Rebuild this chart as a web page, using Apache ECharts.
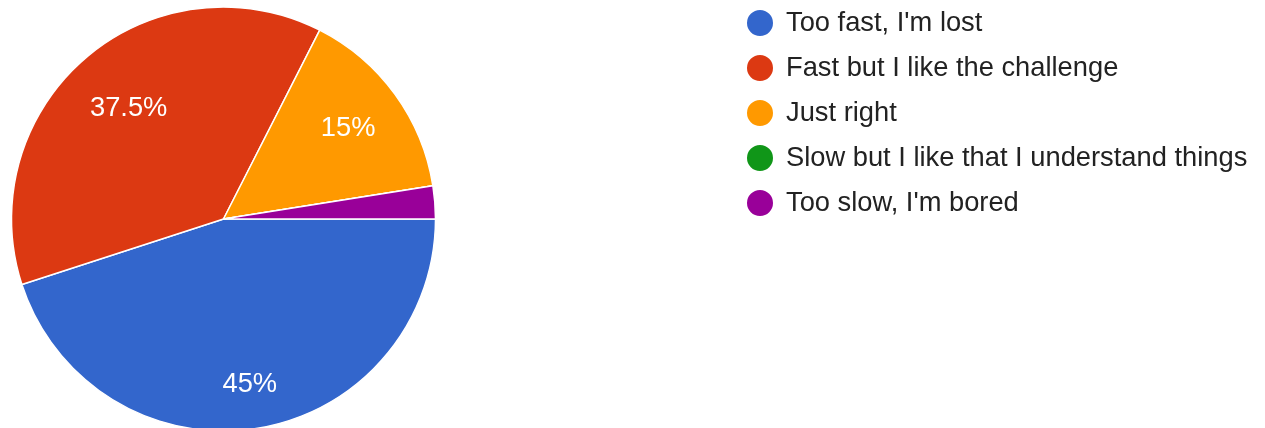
<!DOCTYPE html>
<html>
<head>
<meta charset="utf-8">
<script src="https://cdn.jsdelivr.net/npm/echarts@6/dist/echarts.min.js"></script>
<style>
html,body{margin:0;padding:0;background:#fff;}
#chart{width:1265px;height:428px;}
</style>
</head>
<body>
<div id="chart"></div>
<script>
const categories = ["Too fast, I'm lost", "Fast but I like the challenge", "Just right", "Slow but I like that I understand things", "Too slow, I'm bored"];
const values = [45, 37.5, 15, 0, 2.5];
const colors = ['#3366cc', '#dc3912', '#ff9900', '#109618', '#990099'];
// radial label nudges (px), styling only
const labelNudge = [12, -10, -2, 0, 0];

const total = values.reduce((a, b) => a + b, 0);
let acc = 0;
const data = categories.map((name, i) => {
  const mid = (acc + values[i] / 2) / total * Math.PI * 2;
  acc += values[i];
  const n = labelNudge[i];
  return {
    name: name,
    value: values[i],
    label: { offset: [Math.cos(mid) * n, Math.sin(mid) * n] }
  };
});
const plain = categories.map((name, i) => ({ name: name, value: values[i] }));
const font = '"Liberation Sans", Arial, sans-serif';

const chart = echarts.init(document.getElementById('chart'), null, { renderer: 'canvas' });
chart.setOption({
  animation: false,
  color: colors,
  legend: {
    data: categories,
    orient: 'vertical',
    left: 745,
    top: 8,
    padding: 0,
    icon: 'circle',
    itemWidth: 28,
    itemHeight: 28,
    itemGap: 15,
    selectedMode: false,
    textStyle: { fontFamily: font, fontSize: 27.3, lineHeight: 28, color: '#222222', padding: [0, 0, 0, 7] }
  },
  series: [
    {
      type: 'pie',
      center: [223.5, 219],
      radius: [0, 212],
      startAngle: 0,
      clockwise: true,
      silent: true,
      data: plain,
      itemStyle: { borderColor: '#ffffff', borderWidth: 1.5 },
      label: { show: false },
      labelLine: { show: false }
    },
    {
      type: 'pie',
      center: [223.5, 219],
      radius: [0, 306],
      startAngle: 0,
      clockwise: true,
      silent: true,
      data: data,
      itemStyle: { color: 'rgba(0,0,0,0)', borderWidth: 0 },
      label: {
        show: true,
        position: 'inside',
        color: '#ffffff',
        fontFamily: font,
        fontSize: 27.3,
        formatter: p => (p.percent >= 5 ? p.percent + '%' : '')
      },
      labelLine: { show: false },
      emphasis: { disabled: true }
    }
  ]
});
</script>
</body>
</html>
